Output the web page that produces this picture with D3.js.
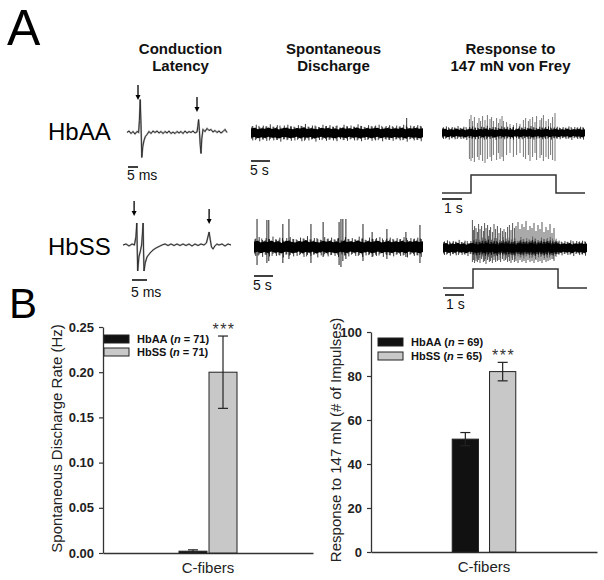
<!DOCTYPE html>
<html><head><meta charset="utf-8">
<script src="https://cdn.jsdelivr.net/npm/d3@7"></script>
<style>html,body{margin:0;padding:0;background:#fff;} svg{display:block;font-family:"Liberation Sans",Arial,sans-serif;}</style>
</head><body><svg id="fig" width="604" height="580"></svg>
<script>
// ---------- DATA ----------
const categories = ["C-fibers"];
const groups = ["HbAA", "HbSS"];
const spontMean = [0.002, 0.20];
const spontSem = [0.0015, 0.04];
const spontN = [71, 71];
const respMean = [51.3, 82];
const respSem = [3, 4.2];
const respN = [69, 65];
const spontTicks = [0, 0.05, 0.10, 0.15, 0.20, 0.25];
const respTicks = [0, 20, 40, 60, 80, 100];
const columnTitles = [["Conduction", "Latency"], ["Spontaneous", "Discharge"], ["Response to", "147 mN von Frey"]];
const rowLabels = ["HbAA", "HbSS"];

// conduction latency waveforms [ms, amplitude]
const clAA = [[0,0],[1,1.5],[2,-1],[3,1],[4,-1.5],[5,1],[5.8,0],[6.2,12],[6.6,33],[7.0,8],[7.4,-25],[7.9,-14],[8.5,-8],[9.2,-4],[10,-2],[11,1],[12,-1],[13,1.5],[14,0],[15,1.5],[16,-0.5],[17,1],[18,-1],[19,1],[20,-0.5],[21,1.5],[22,-1],[23,0.5],[24,-1],[25,1],[26,-0.5],[27,1],[28,-1],[29,1.5],[30,-0.5],[31,1],[32,0],[33,1.5],[34,-0.5],[35,0.5],[35.4,6],[35.8,13],[36.2,2],[36.6,-12],[37.0,-21],[37.4,-6],[38,3],[39,1],[40,4],[41,2],[42,3],[43,0.5],[44,2],[45,0],[46,1.5],[47,-0.5],[48,1],[49,3],[50,0]];
const clSS = [[0,0],[1,1],[2,-1],[3,1],[3.8,0],[4.3,8],[4.6,22],[4.75,-5],[4.9,-26],[5.3,-12],[5.8,-6],[6.2,0],[6.5,12],[6.7,22],[6.85,-5],[7.0,-26],[7.4,-18],[8,-12],[9,-8],[10,-5],[11,-3],[12,-1.5],[13,0],[14,1],[15,-0.5],[16,1],[17,-0.5],[18,1],[19,-0.5],[20,1],[21,-0.5],[22,1],[23,-1],[24,1],[25,-0.5],[26,1],[27,0],[27.8,2],[28.3,8],[28.7,13],[29.1,5],[29.5,-2],[30,-4],[30.6,-1],[31.3,1],[32,0],[33,1],[34,-1],[35,1],[36,0]];
const clArrowsAA = [5.5, 35];
const clArrowsSS = [3.7, 28.7];

// spikes [s, up, down]
const spontSpikesAA = [[41, 15, 6]];
const spontSpikesSS = [[0.8,28,18],[3.4,27,16],[3.9,27,14],[7.6,23,16],[9.2,28,12],[15.0,23,16],[18.2,25,10],[22.4,25,18],[22.9,28,20],[23.4,28,14],[24.2,28,12],[28.7,23,14],[31.1,15,10],[35.0,18,12],[40.0,15,10],[43.7,22,16]];
const respSpikesAA = [[1.37,14,26],[1.45,18,28],[1.53,12,25],[1.62,16,29],[1.77,10,24],[1.85,15,27],[1.93,12,22],[2.03,17,28],[2.15,13,30],[2.27,18,26],[2.40,14,24],[2.48,16,28],[2.57,12,22],[2.73,15,27],[2.82,10,20],[2.90,14,26],[3.00,17,24],[3.07,12,28],[3.23,11,22],[3.40,9,20],[3.57,8,24],[3.73,10,22],[3.90,9,20],[4.07,13,24],[4.18,15,26],[4.32,12,22],[4.40,14,28],[4.53,16,24],[4.65,11,20],[4.73,17,27],[4.90,13,25],[4.98,15,22],[5.07,18,28],[5.20,12,24],[5.32,14,26],[5.43,10,22],[5.53,16,27],[5.65,20,28]];
const respSpikesSS = [[1.47,28,14],[1.52,18,12],[1.58,22,15],[1.65,20,13],[1.72,16,14],[1.78,24,12],[1.85,19,15],[1.93,22,11],[2.02,17,14],[2.08,25,13],[2.15,20,16],[2.23,23,12],[2.32,18,14],[2.38,21,13],[2.47,16,15],[2.55,24,12],[2.63,19,14],[2.72,22,13],[2.80,15,12],[2.88,20,14],[2.97,17,11],[3.05,19,13],[3.13,16,12],[3.23,21,14],[3.32,23,13],[3.40,18,15],[3.48,25,12],[3.57,20,14],[3.65,22,13],[3.75,26,15],[3.85,19,12],[3.95,24,14],[4.05,21,13],[4.15,27,15],[4.25,18,12],[4.35,22,14],[4.45,20,13],[4.55,25,15],[4.65,17,12],[4.75,23,14],[4.85,19,13],[4.95,26,15],[5.05,16,12],[5.15,21,14],[5.25,18,13],[5.35,24,12],[5.45,15,11],[5.55,20,13]];
const stimAA = [1.45, 5.7];
const stimSS = [1.5, 5.75];

// noise envelope (relative)
const noiseTop = [0.85,1.0,0.7,0.9,0.8,1.05,0.75,0.95,0.65,0.9,1.0,0.8,0.7,0.95,0.85,1.1,0.75,0.9,0.8,0.7,1.0,0.85,0.95,0.75,0.9,0.65,1.0,0.8,0.9,0.75,1.05,0.85,0.7,0.95,0.8,0.9,1.0,0.7,0.85,0.95,0.75,0.9,0.8,1.0,0.7,0.9,0.85,0.95,0.8,0.9];
const noiseBottom = [0.9,0.75,1.0,0.8,0.95,0.7,0.9,0.85,1.05,0.75,0.8,0.95,0.9,0.7,1.0,0.8,0.9,0.75,1.05,0.85,0.7,0.95,0.8,0.9,1.0,0.75,0.85,0.95,0.7,0.9,0.8,1.0,0.85,0.75,0.95,0.9,0.7,1.0,0.8,0.85,0.95,0.75,0.9,0.8,1.05,0.7,0.9,0.85,1.0,0.8];

// ---------- DRAW ----------
const svg = d3.select("#fig");
svg.append("rect").attr("width", 604).attr("height", 580).attr("fill", "#fff");

svg.append("text").attr("x", 7).attr("y", 45).attr("font-size", 50).attr("fill", "#000").text("A");
svg.append("text").attr("x", 9).attr("y", 318).attr("font-size", 42).attr("fill", "#000").text("B");

const titleX = [180.5, 333.5, 510.5];
columnTitles.forEach((lines, i) => {
  lines.forEach((l, j) => {
    svg.append("text").attr("x", titleX[i]).attr("y", 54 + j * 17).attr("text-anchor", "middle")
      .attr("font-size", 15).attr("font-weight", "bold").attr("fill", "#111").text(l);
  });
});
const rowY = [140, 255];
rowLabels.forEach((l, i) => {
  svg.append("text").attr("x", 48).attr("y", rowY[i]).attr("font-size", 24).attr("fill", "#000").text(l);
});

function scaleBar(x0, x1, y, label, lx, ly) {
  svg.append("line").attr("x1", x0).attr("x2", x1).attr("y1", y).attr("y2", y).attr("stroke", "#000").attr("stroke-width", 1.5);
  svg.append("text").attr("x", lx).attr("y", ly).attr("font-size", 14).attr("fill", "#111").text(label);
}

// Conduction latency
function drawCL(data, x0, x1, tMax, yc, arrows, arrowTops, bar) {
  const xs = d3.scaleLinear().domain([0, tMax]).range([x0, x1]);
  const ys = d3.scaleLinear().domain([-40, 40]).range([yc + 40, yc - 40]);
  const line = d3.line().x(d => xs(d[0])).y(d => ys(d[1]));
  svg.append("path").attr("d", line(data)).attr("fill", "none").attr("stroke", "#aaa").attr("stroke-width", 1.8);
  svg.append("path").attr("d", line(data)).attr("fill", "none").attr("stroke", "#222").attr("stroke-width", 0.9);
  arrows.forEach((t, i) => {
    const x = xs(t), top = arrowTops[i], bot = top + 15;
    svg.append("line").attr("x1", x).attr("x2", x).attr("y1", top).attr("y2", bot - 4).attr("stroke", "#000").attr("stroke-width", 1.3);
    svg.append("path").attr("d", `M${x - 2.5},${bot - 5}L${x + 2.5},${bot - 5}L${x},${bot}Z`).attr("fill", "#000");
  });
  scaleBar(xs(bar[0]), xs(bar[1]), bar[2], "5 ms", xs(bar[0]) - 1, bar[3]);
}
drawCL(clAA, 127, 227, 50, 132.5, clArrowsAA, [85, 97], [0.5, 5.5, 167, 180]);
drawCL(clSS, 123, 231, 36, 245, clArrowsSS, [201, 209], [3, 8, 280, 297]);

// noise band (solid core + hairs) + spikes
function drawNoise(xs, yc, hw, range, color) {
  const n = noiseTop.length;
  const ix = d3.scaleLinear().domain([0, n - 1]).range(xs.range());
  let idx = d3.range(n);
  if (range) idx = idx.filter(i => ix(i) >= range[0] && ix(i) <= range[1]);
  const c = color || "#000";
  const area = d3.area().x(i => ix(i)).y0(i => yc + hw * 0.7 * noiseBottom[i]).y1(i => yc - hw * 0.7 * noiseTop[i]);
  svg.append("path").attr("d", area(idx)).attr("fill", c);
  // hairs between samples
  const hairs = idx.slice(0, -1);
  svg.append("g").selectAll("line").data(hairs).join("line")
    .attr("x1", i => ix(i + 0.5)).attr("x2", i => ix(i + 0.5))
    .attr("y1", i => yc - hw * 1.1 * noiseTop[i]).attr("y2", i => yc + hw * 1.1 * noiseBottom[i])
    .attr("stroke", c).attr("stroke-width", 0.8);
  svg.append("g").selectAll("line").data(hairs).join("line")
    .attr("x1", i => ix(i + 0.25)).attr("x2", i => ix(i + 0.25))
    .attr("y1", i => yc - hw * 0.95 * noiseBottom[i]).attr("y2", i => yc + hw * 0.95 * noiseTop[i])
    .attr("stroke", c).attr("stroke-width", 0.7);
}
function drawSpikes(xs, yc, spikes, color) {
  svg.append("g").selectAll("line").data(spikes).join("line")
    .attr("x1", d => xs(d[0])).attr("x2", d => xs(d[0]))
    .attr("y1", d => yc - d[1]).attr("y2", d => yc + d[2])
    .attr("stroke", color).attr("stroke-width", 1);
}

// Spontaneous
const xsSpAA = d3.scaleLinear().domain([0, 45.3]).range([251, 423]);
drawSpikes(xsSpAA, 133, spontSpikesAA, "#333");
drawNoise(xsSpAA, 133, 7.5);
scaleBar(xsSpAA(0), xsSpAA(5), 161, "5 s", 250, 175);

const xsSpSS = d3.scaleLinear().domain([0, 44.5]).range([254, 423]);
drawSpikes(xsSpSS, 247, spontSpikesSS, "#222");
drawNoise(xsSpSS, 247, 9);
scaleBar(xsSpSS(0), xsSpSS(5), 276, "5 s", 253, 290);

// Response to von Frey
function drawStep(xs, stim, low, high) {
  const d = xs.domain();
  const pts = [[d[0], 0], [stim[0], 0], [stim[0], 1], [stim[1], 1], [stim[1], 0], [d[1], 0]];
  const ys = d3.scaleLinear().domain([0, 1]).range([low, high]);
  svg.append("path").attr("d", d3.line().x(p => xs(p[0])).y(p => ys(p[1]))(pts))
    .attr("fill", "none").attr("stroke", "#333").attr("stroke-width", 1.5);
}
const xsRAA = d3.scaleLinear().domain([0, 7.15]).range([442, 585]);
drawSpikes(xsRAA, 133, respSpikesAA, "#777");
drawNoise(xsRAA, 133, 6);
drawStep(xsRAA, stimAA, 193, 175);
scaleBar(xsRAA(0), xsRAA(1), 199, "1 s", 444, 213);

const xsRSS = d3.scaleLinear().domain([0, 7.2]).range([443, 587]);
drawNoise(xsRSS, 248, 10, [xsRSS(stimSS[0]), xsRSS(stimSS[1])], "#444");
drawSpikes(xsRSS, 248, respSpikesSS, "#555");
drawNoise(xsRSS, 248, 7);
drawStep(xsRSS, stimSS, 288, 269);
scaleBar(xsRSS(0.1), xsRSS(1.05), 295, "1 s", 446, 309);

// ---------- BAR CHARTS ----------
const barColors = ["#111", "#c8c8c8"];
function barChart(opt) {
  const g = svg.append("g");
  const y = d3.scaleLinear().domain(opt.domain).range([opt.y0, opt.y1]);
  const x0 = d3.scaleBand().domain(categories).range([opt.xa, opt.xb]).paddingInner(0).paddingOuter(opt.po);
  const x1 = d3.scaleBand().domain(groups).range([0, x0.bandwidth()]).paddingInner(opt.pi);

  const yAxis = d3.axisLeft(y).tickValues(opt.ticks).tickFormat(opt.fmt).tickSize(4).tickSizeOuter(0).tickPadding(5);
  const ya = g.append("g").attr("transform", `translate(${opt.xa},0)`).call(yAxis);
  ya.attr("font-size", null).attr("font-family", null);
  ya.selectAll("text").style("font-size", "13px").style("font-weight", "bold").attr("fill", "#222");
  ya.selectAll("line").attr("stroke", "#333").attr("stroke-width", 1.2);
  ya.select(".domain").attr("stroke", "#333").attr("stroke-width", 1.3);

  const xAxis = d3.axisBottom(x0).tickSize(0).tickSizeOuter(0).tickPadding(9);
  const xa = g.append("g").attr("transform", `translate(0,${opt.y0})`).call(xAxis);
  xa.attr("font-size", null).attr("font-family", null);
  xa.selectAll("text").style("font-size", "15px").attr("fill", "#222");
  xa.select(".domain").attr("stroke", "#333").attr("stroke-width", 1.3);

  groups.forEach((gr, i) => {
    const bx = x0(categories[0]) + x1(gr);
    const bw = x1.bandwidth();
    const cx = bx + bw / 2;
    const m = opt.mean[i], s = opt.sem[i];
    g.append("rect").attr("x", bx).attr("width", bw).attr("y", y(m)).attr("height", y(0) - y(m))
      .attr("fill", barColors[i]).attr("stroke", "#222").attr("stroke-width", 1);
    g.append("line").attr("x1", cx).attr("x2", cx).attr("y1", y(m - s)).attr("y2", y(m + s)).attr("stroke", "#222").attr("stroke-width", 1.2);
    [m - s, m + s].forEach(v => g.append("line").attr("x1", cx - 5).attr("x2", cx + 5).attr("y1", y(v)).attr("y2", y(v)).attr("stroke", "#222").attr("stroke-width", 1.2));
    if (i === 1) {
      g.append("text").attr("x", cx + 1).attr("y", y(m + s) - 1).attr("text-anchor", "middle").attr("font-size", 16)
        .attr("letter-spacing", 1.5).attr("fill", "#333").text("***");
    }
  });

  // legend
  groups.forEach((gr, i) => {
    const ly = opt.legY[i];
    g.append("rect").attr("x", opt.legX).attr("y", ly - 8).attr("width", 25).attr("height", 8)
      .attr("fill", barColors[i]).attr("stroke", "#222").attr("stroke-width", 1);
    const t = g.append("text").attr("x", opt.legX + 33).attr("y", ly).attr("font-size", 11).attr("font-weight", "bold").attr("fill", "#111");
    t.append("tspan").text(gr + " (");
    t.append("tspan").attr("font-style", "italic").text("n");
    t.append("tspan").text(" = " + opt.n[i] + ")");
  });

  g.append("text").attr("transform", `translate(${opt.titleX},${opt.titleY}) rotate(-90)`).attr("text-anchor", "middle")
    .attr("font-size", 15).attr("fill", "#222").text(opt.title);
}

barChart({
  domain: [0, 0.25], y0: 553, y1: 327, xa: 103, xb: 313, po: 1.31, pi: 0.067,
  ticks: spontTicks, fmt: d3.format(".2f"), mean: spontMean, sem: spontSem, n: spontN,
  legX: 104, legY: [343, 356], titleX: 62, titleY: 438.5, title: "Spontaneous Discharge Rate (Hz)"
});
barChart({
  domain: [0, 100], y0: 552, y1: 332, xa: 371, xb: 597, po: 1.278, pi: 0.297,
  ticks: respTicks, fmt: d3.format("d"), mean: respMean, sem: respSem, n: respN,
  legX: 378, legY: [346, 360], titleX: 341, titleY: 440, title: "Response to 147 mN (# of Impulses)"
});
</script></body></html>
